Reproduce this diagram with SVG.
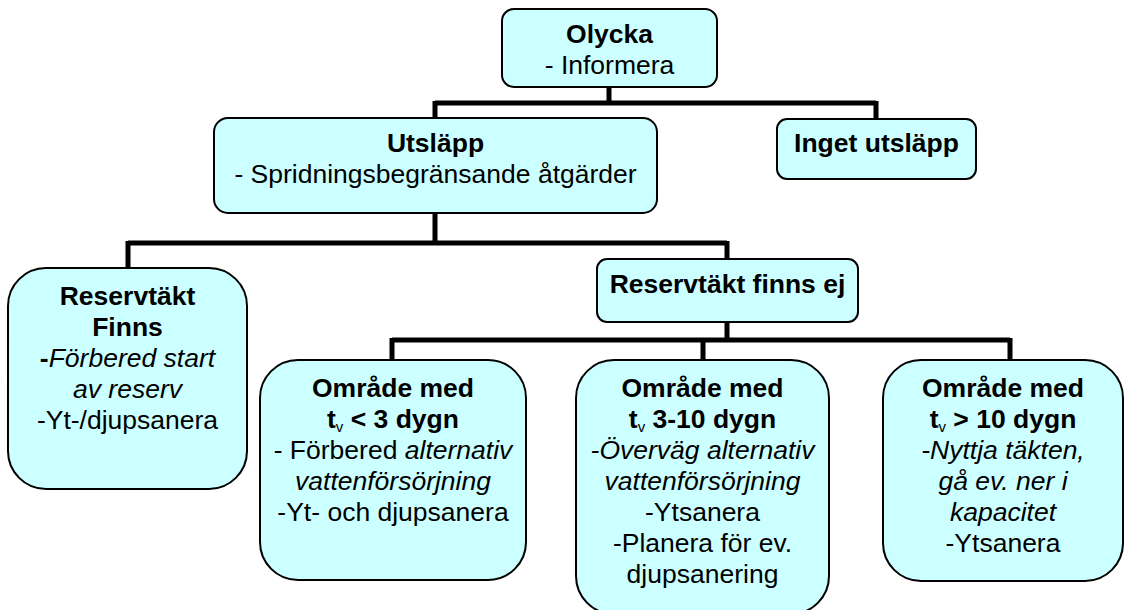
<svg xmlns="http://www.w3.org/2000/svg" width="1126" height="610" viewBox="0 0 1126 610">
<style>
.box{fill:#CCFFFF;stroke:#000;stroke-width:2}
.c{fill:none;stroke:#000;stroke-width:5;stroke-linejoin:miter}
text{font-family:"Liberation Sans",Arial,sans-serif;font-size:26.5px;fill:#000;text-anchor:middle}
.b{font-weight:bold}
.i{font-style:italic}
.sub{font-size:15px;font-weight:normal}
</style>
<rect width="1126" height="610" fill="#fff"/>
<g id="connectors">
<path class="c" d="M609,87V103M435,103H876M435,101V118M876,101V119"/>
<path class="c" d="M435,213V243M128,243H727M128,241V268M727,241V259"/>
<path class="c" d="M727,322V340M392,340H1010M392,338V360M703,338V360M1010,338V360"/>
</g>
<g id="olycka">
<rect class="box" x="502" y="9" width="215" height="78" rx="12"/>
<text x="609.5" y="43" class="b">Olycka</text>
<text x="609.5" y="74">- Informera</text>
</g>
<g id="utslapp">
<rect class="box" x="214" y="118" width="443" height="95" rx="14"/>
<text x="435.5" y="152" class="b">Utsläpp</text>
<text x="435.5" y="183">- Spridningsbegränsande åtgärder</text>
</g>
<g id="inget">
<rect class="box" x="777" y="119" width="199" height="60" rx="10"/>
<text x="876.5" y="152" class="b">Inget utsläpp</text>
</g>
<g id="reserv-finns">
<rect class="box" x="8" y="268" width="239" height="221" rx="38"/>
<text x="127.5" y="305" class="b">Reservtäkt</text>
<text x="127.5" y="336" class="b">Finns</text>
<text x="127.5" y="367"><tspan class="b">-</tspan><tspan class="i">Förbered start</tspan></text>
<text x="127.5" y="398" class="i">av reserv</text>
<text x="127.5" y="429">-Yt-/djupsanera</text>
</g>
<g id="reserv-ej">
<rect class="box" x="597" y="259" width="261" height="63" rx="10"/>
<text x="727.5" y="293" class="b">Reservtäkt finns ej</text>
</g>
<g id="omr-lt3">
<rect class="box" x="260" y="360" width="266" height="220" rx="38"/>
<text x="393" y="397" class="b">Område med</text>
<text x="393" y="428" class="b">t<tspan class="sub" dy="4">v</tspan><tspan dy="-4"> &lt; 3 dygn</tspan></text>
<text x="393" y="459">- Förbered <tspan class="i">alternativ</tspan></text>
<text x="393" y="490" class="i">vattenförsörjning</text>
<text x="393" y="521">-Yt- och djupsanera</text>
</g>
<g id="omr-3-10">
<rect class="box" x="576" y="360" width="253" height="254" rx="38"/>
<text x="702.5" y="397" class="b">Område med</text>
<text x="702.5" y="428" class="b">t<tspan class="sub" dy="4">v</tspan><tspan dy="-4"> 3-10 dygn</tspan></text>
<text x="702.5" y="459" class="i">-Överväg alternativ</text>
<text x="702.5" y="490" class="i">vattenförsörjning</text>
<text x="702.5" y="521">-Ytsanera</text>
<text x="702.5" y="552">-Planera för ev.</text>
<text x="702.5" y="583">djupsanering</text>
</g>
<g id="omr-gt10">
<rect class="box" x="883" y="360" width="240" height="221" rx="38"/>
<text x="1003" y="397" class="b">Område med</text>
<text x="1003" y="428" class="b">t<tspan class="sub" dy="4">v</tspan><tspan dy="-4"> &gt; 10 dygn</tspan></text>
<text x="1003" y="459" class="i">-Nyttja täkten,</text>
<text x="1003" y="490" class="i">gå ev. ner i</text>
<text x="1003" y="521" class="i">kapacitet</text>
<text x="1003" y="552">-Ytsanera</text>
</g>
</svg>
